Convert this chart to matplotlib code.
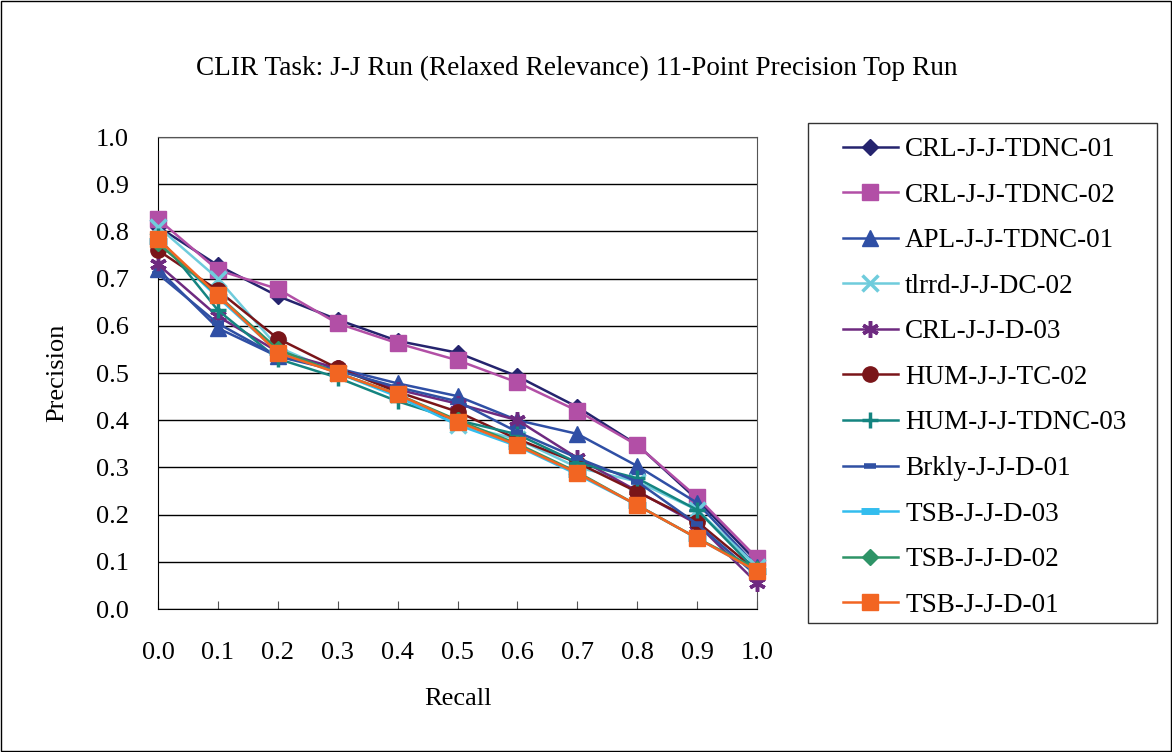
import matplotlib.pyplot as plt
from matplotlib.patches import Rectangle

plt.rcParams['font.family'] = ['Liberation Serif', 'DejaVu Serif']

# Data
recall = [0.0, 0.1, 0.2, 0.3, 0.4, 0.5, 0.6, 0.7, 0.8, 0.9, 1.0]
crl_tdnc_01 = [0.81, 0.728, 0.663, 0.613, 0.568, 0.543, 0.493, 0.428, 0.348, 0.232, 0.100]
crl_tdnc_02 = [0.826, 0.718, 0.678, 0.605, 0.563, 0.527, 0.480, 0.420, 0.347, 0.237, 0.108]
apl_tdnc_01 = [0.72, 0.595, 0.535, 0.510, 0.478, 0.451, 0.400, 0.371, 0.303, 0.225, 0.090]
tlrrd_dc_02 = [0.81, 0.700, 0.555, 0.500, 0.455, 0.390, 0.360, 0.300, 0.270, 0.210, 0.090]
crl_d_03 = [0.73, 0.620, 0.545, 0.510, 0.465, 0.435, 0.400, 0.320, 0.250, 0.180, 0.055]
hum_tc_02 = [0.76, 0.675, 0.573, 0.510, 0.460, 0.418, 0.360, 0.310, 0.248, 0.185, 0.080]
hum_tdnc_03 = [0.79, 0.633, 0.530, 0.490, 0.440, 0.400, 0.370, 0.310, 0.277, 0.210, 0.080]
brkly_d_01 = [0.71, 0.605, 0.535, 0.505, 0.470, 0.440, 0.375, 0.320, 0.270, 0.180, 0.070]
tsb_d_03 = [0.78, 0.660, 0.545, 0.500, 0.450, 0.390, 0.345, 0.285, 0.220, 0.150, 0.080]
tsb_d_02 = [0.775, 0.665, 0.550, 0.500, 0.455, 0.400, 0.350, 0.290, 0.220, 0.150, 0.085]
tsb_d_01 = [0.784, 0.665, 0.543, 0.500, 0.455, 0.397, 0.347, 0.288, 0.220, 0.150, 0.080]

series = [
    ('CRL-J-J-TDNC-01', crl_tdnc_01, '#25246E', 'D', 8, 1),
    ('CRL-J-J-TDNC-02', crl_tdnc_02, '#B24FA6', 's', 11, 1),
    ('APL-J-J-TDNC-01', apl_tdnc_01, '#2F4FA5', '^', 11, 1),
    ('tlrrd-J-J-DC-02', tlrrd_dc_02, '#6FCCDC', 'x', 11, 2.5),
    ('CRL-J-J-D-03', crl_d_03, '#6E2A80', (6, 2, 0), 12, 2.5),
    ('HUM-J-J-TC-02', hum_tc_02, '#7A1519', 'o', 11, 1),
    ('HUM-J-J-TDNC-03', hum_tdnc_03, '#148480', '+', 12, 2.5),
    ('Brkly-J-J-D-01', brkly_d_01, '#3050A3', '_', 9, 4),
    ('TSB-J-J-D-03', tsb_d_03, '#33BDEE', '_', 13, 5),
    ('TSB-J-J-D-02', tsb_d_02, '#2E9467', 'D', 8, 1),
    ('TSB-J-J-D-01', tsb_d_01, '#F26522', 's', 11, 1),
]

W, H = 1172, 752
fig = plt.figure(figsize=(W / 100, H / 100), dpi=100)
ax = fig.add_axes([158 / W, 1 - 609 / H, (757 - 158) / W, (609 - 137) / H])

for name, vals, col, mk, ms, mew in series:
    ax.plot(recall, vals, color=col, marker=mk, markersize=ms, markeredgewidth=mew,
            markeredgecolor=col, markerfacecolor=col, linewidth=1.8, label=name,
            clip_on=False, zorder=3)

ax.set_xlim(0, 1)
ax.set_ylim(0, 1)
ax.set_xticks(recall)
ax.set_xticklabels(['%.1f' % r for r in recall])
ax.set_yticks([i / 10 for i in range(11)])
ax.set_yticklabels(['%.1f' % (i / 10) for i in range(11)])
ax.yaxis.grid(True, color='black', linewidth=1)
ax.set_axisbelow(True)
for s in ax.spines.values():
    s.set_color('#555555')
ax.spines['left'].set_color('black')
ax.spines['bottom'].set_color('black')
ax.tick_params(axis='both', labelsize=19, direction='in', length=6, color='#555555')
ax.tick_params(axis='x', pad=24)
ax.tick_params(axis='y', pad=21, length=0)
ax.set_xlabel('Recall', fontsize=19, labelpad=17)
ax.set_ylabel('Precision', fontsize=19, labelpad=20)

fig.text(577 / W, 1 - 68 / H, 'CLIR Task: J-J Run (Relaxed Relevance) 11-Point Precision Top Run',
         ha='center', va='center', fontsize=19.6)

# legend box drawn separately so the inner padding can match
fig.patches.append(Rectangle((808 / W, 1 - 623 / H), (1157 - 808) / W, (623 - 123) / H,
                             transform=fig.transFigure, fill=False, edgecolor='#333333',
                             linewidth=1))
fig.legend(loc='upper left', bbox_to_anchor=(843 / W, 1 - 137 / H), fontsize=19.5,
           frameon=False, handlelength=2.03, handletextpad=0.26, labelspacing=0.76,
           borderpad=0, borderaxespad=0)

fig.patches.append(Rectangle((0.001, 0.001), 0.998, 0.998, transform=fig.transFigure,
                             fill=False, edgecolor='black', linewidth=1))

fig.savefig('out.png', dpi=100)
